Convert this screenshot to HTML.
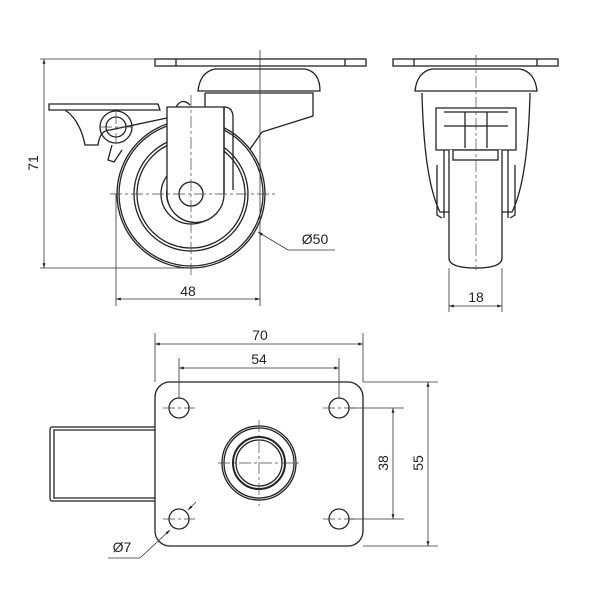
<!DOCTYPE html>
<html><head><style>body{margin:0;background:#fff}svg{display:block}text{font-family:"Liberation Sans",sans-serif;font-size:14px;fill:#222}</style></head>
<body>
<svg width="600" height="600" viewBox="0 0 600 600" xmlns="http://www.w3.org/2000/svg">
<defs><marker id="a" viewBox="0 0 10 10" refX="10" refY="5" markerWidth="8" markerHeight="6" orient="auto-start-reverse"><path d="M0,2 L10,5 L0,8 z" fill="#222"/></marker></defs>
<g fill="none" stroke="#222" stroke-width="1.3">
<!-- side view -->
<rect x="155" y="59" width="211" height="7" fill="#fff"/>
<line x1="176" y1="59" x2="176" y2="66"/><line x1="345" y1="59" x2="345" y2="66"/>
<path d="M198,91 Q200,72 215,69 L305,69 Q320,72 320,91 Z" fill="#fff"/>
<path d="M205,93 L313,93 L313,116 L262,132 L220,192" />
<path d="M205,93 L205,107"/>
<circle cx="191" cy="194" r="74" fill="#fff"/>
<circle cx="191" cy="194" r="72"/>
<circle cx="191" cy="194" r="57"/>
<circle cx="191" cy="194" r="54"/>
<circle cx="191" cy="194" r="30"/>
<circle cx="191" cy="194" r="24" stroke-width="2"/>
<circle cx="191" cy="194" r="21"/>
<path d="M167,107 L224,107 L224,194 A28,28 0 0 1 167,194 Z" fill="#fff"/>
<line x1="224" y1="107" x2="224" y2="194"/>
<circle cx="191" cy="194" r="12" fill="#fff"/>
<path d="M224,107 Q232,107 233,116 L233,190"/>
<path d="M176,107 Q182,97 190,105"/>
<path d="M49,104 L158,104 L160,110 L49,110 Z" fill="#fff"/>
<path d="M65,110 Q80,120 85,145 L98,145 Q100,130 110,130 L167,118"/>
<circle cx="116" cy="127" r="16"/>
<circle cx="116" cy="127" r="10"/>
<path d="M112,145 L108,160 L114,162 L122,150"/>
<!-- front view -->
<rect x="393" y="59" width="165" height="7" fill="#fff"/>
<line x1="414" y1="59" x2="414" y2="66"/><line x1="537" y1="59" x2="537" y2="66"/>
<path d="M415,91 Q417,72 432,69 L520,69 Q535,72 537,91 Z" fill="#fff"/>
<path d="M422,93 Q424,180 440,212 L512,212 Q528,180 530,93"/>
<path d="M436,108 L516,108 L516,150 L436,150 Z" fill="#fff"/>
<line x1="444" y1="112" x2="508" y2="112"/>
<line x1="465" y1="112" x2="465" y2="148"/><line x1="487" y1="112" x2="487" y2="148"/>
<line x1="444" y1="126" x2="508" y2="126"/>
<path d="M437,165 L437,215 L442,218 M515,165 L515,215 L510,218"/>
<path d="M444,150 L444,218 M508,150 L508,218"/>
<path d="M449,150 L449,258 Q449,268 476,268 Q502,268 502,258 L502,150" fill="#fff"/>
<rect x="453" y="150" width="45" height="10"/>
<!-- top view -->
<rect x="155" y="382" width="208" height="164" rx="15" fill="#fff"/>
<path d="M155,427 L52,427 Q50,427 50,430 L50,498 Q50,501 52,501 L155,501"/>
<path d="M155,430 L54,430 L54,498 L155,498"/>
<circle cx="179" cy="408" r="10"/><circle cx="339" cy="408" r="10"/>
<circle cx="179" cy="519" r="10"/><circle cx="339" cy="519" r="10"/>
<circle cx="259" cy="463" r="37"/><circle cx="259" cy="463" r="35"/>
<circle cx="259" cy="463" r="26" stroke-width="2"/><circle cx="259" cy="463" r="23"/>
</g>
<!-- center lines -->
<g stroke="#444" stroke-width="0.7" stroke-dasharray="12,3,3,3" fill="none">
<line x1="110" y1="194" x2="275" y2="194"/><line x1="191" y1="95" x2="191" y2="275"/>
<line x1="116" y1="112" x2="116" y2="142"/><line x1="100" y1="127" x2="132" y2="127"/>
<line x1="476" y1="55" x2="476" y2="270"/>
<line x1="218" y1="463" x2="300" y2="463"/><line x1="259" y1="420" x2="259" y2="506"/>
<line x1="163" y1="408" x2="195" y2="408"/><line x1="323" y1="408" x2="355" y2="408"/>
<line x1="163" y1="519" x2="195" y2="519"/><line x1="323" y1="519" x2="355" y2="519"/>
</g>
<!-- dimensions -->
<g stroke="#333" stroke-width="0.8" fill="none">
<line x1="40" y1="59" x2="155" y2="59"/><line x1="40" y1="268" x2="191" y2="268"/>
<line x1="44" y1="59" x2="44" y2="268" marker-start="url(#a)" marker-end="url(#a)"/>
<line x1="116" y1="194" x2="116" y2="306"/><line x1="260" y1="50" x2="260" y2="306"/>
<line x1="116" y1="299" x2="260" y2="299" marker-start="url(#a)" marker-end="url(#a)"/>
<polyline points="335,250 288,250 258,232" marker-end="url(#a)"/>
<line x1="449" y1="268" x2="449" y2="312"/><line x1="502" y1="268" x2="502" y2="312"/>
<line x1="449" y1="306" x2="502" y2="306" marker-start="url(#a)" marker-end="url(#a)"/>
<line x1="155" y1="333" x2="155" y2="382"/><line x1="363" y1="333" x2="363" y2="382"/>
<line x1="155" y1="344" x2="363" y2="344" marker-start="url(#a)" marker-end="url(#a)"/>
<line x1="179" y1="358" x2="179" y2="398"/><line x1="339" y1="358" x2="339" y2="398"/>
<line x1="179" y1="368" x2="339" y2="368" marker-start="url(#a)" marker-end="url(#a)"/>
<line x1="349" y1="408" x2="404" y2="408"/><line x1="349" y1="519" x2="404" y2="519"/>
<line x1="393" y1="408" x2="393" y2="519" marker-start="url(#a)" marker-end="url(#a)"/>
<line x1="363" y1="382" x2="438" y2="382"/><line x1="363" y1="546" x2="438" y2="546"/>
<line x1="428" y1="382" x2="428" y2="546" marker-start="url(#a)" marker-end="url(#a)"/>
<polyline points="108,558 140,558 170,530" marker-end="url(#a)"/>
<line x1="196" y1="502" x2="188" y2="510" marker-end="url(#a)"/>
</g>
<text x="38" y="163" text-anchor="middle" transform="rotate(-90 38 163)">71</text>
<text x="188" y="296" text-anchor="middle">48</text>
<text x="315" y="244" text-anchor="middle">Ø50</text>
<text x="476" y="302" text-anchor="middle">18</text>
<text x="260" y="340" text-anchor="middle">70</text>
<text x="259" y="364" text-anchor="middle">54</text>
<text x="388" y="463" text-anchor="middle" transform="rotate(-90 388 463)">38</text>
<text x="423" y="463" text-anchor="middle" transform="rotate(-90 423 463)">55</text>
<text x="122" y="552" text-anchor="middle">Ø7</text>
</svg>
</body></html>
